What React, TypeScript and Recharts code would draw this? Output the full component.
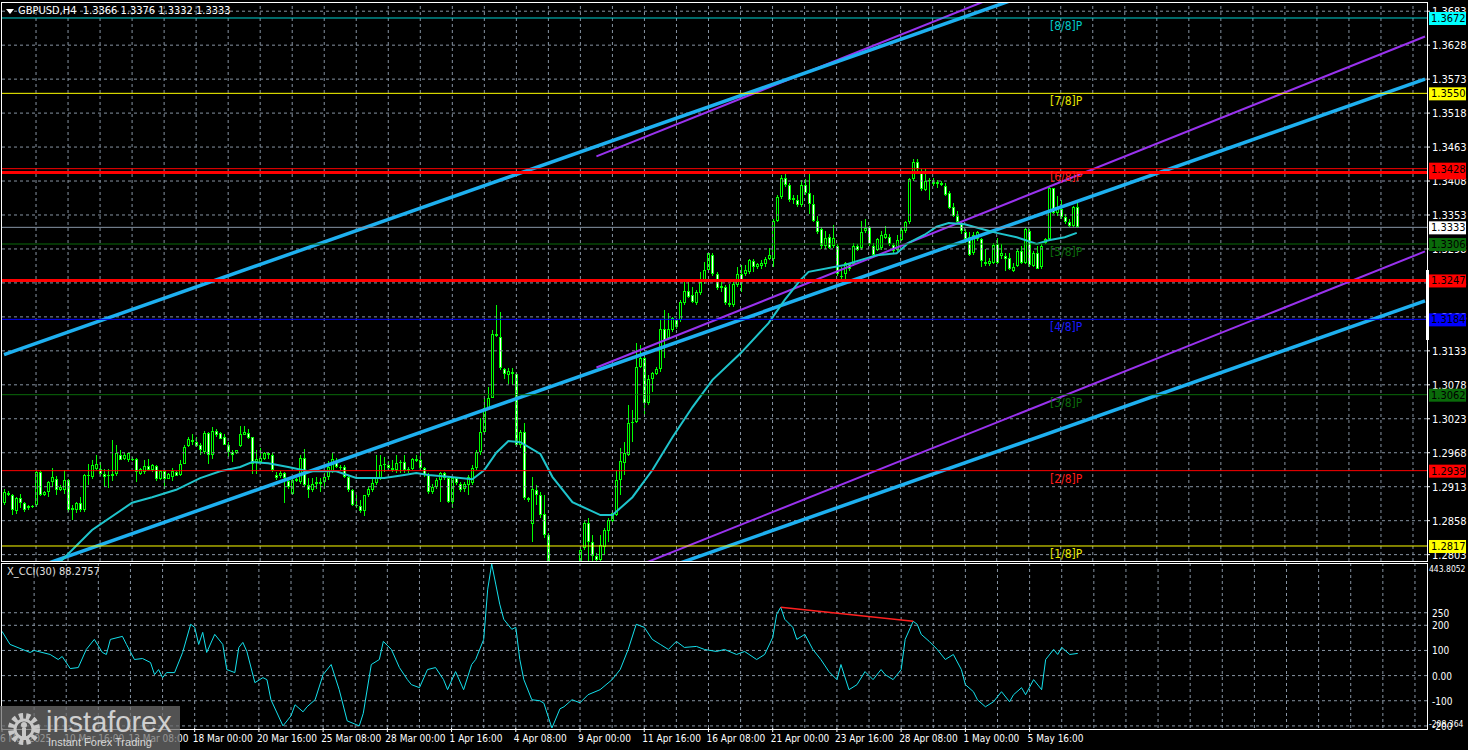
import React from 'react';
import { ComposedChart, LineChart, Bar, Line, XAxis, YAxis, ReferenceLine } from 'recharts';

const FONT = "'Liberation Sans Narrow', 'DejaVu Sans Condensed', 'Liberation Sans', Arial, sans-serif";
const SLOTS = 356; // bars that fit the window, incl. the empty shift on the right

// GBPUSD H4 candles [open, high, low, close], 6 Mar - 6 May 2025
const OHLC: number[][] = [
  [1.2886,1.2910,1.2883,1.2904],[1.2903,1.2906,1.2898,1.2899],[1.2900,1.2902,1.2867,1.2875],[1.2873,1.2896,1.2869,1.2895],[1.2895,1.2902,1.2878,1.2886],
  [1.2887,1.2888,1.2872,1.2876],[1.2878,1.2884,1.2876,1.2882],[1.2880,1.2884,1.2878,1.2882],[1.2883,1.2940,1.2880,1.2937],[1.2937,1.2940,1.2898,1.2900],
  [1.2900,1.2906,1.2898,1.2904],[1.2904,1.2923,1.2896,1.2920],[1.2920,1.2943,1.2913,1.2928],[1.2926,1.2931,1.2899,1.2908],[1.2908,1.2915,1.2906,1.2913],
  [1.2907,1.2940,1.2902,1.2924],[1.2924,1.2926,1.2872,1.2875],[1.2875,1.2883,1.2859,1.2879],[1.2875,1.2889,1.2871,1.2887],[1.2887,1.2896,1.2872,1.2876],
  [1.2875,1.2934,1.2872,1.2932],[1.2932,1.2950,1.2915,1.2930],[1.2929,1.2956,1.2926,1.2948],[1.2941,1.2964,1.2940,1.2949],[1.2942,1.2953,1.2931,1.2934],
  [1.2934,1.2942,1.2913,1.2929],[1.2930,1.2942,1.2911,1.2932],[1.2931,1.2988,1.2923,1.2934],[1.2933,1.2981,1.2931,1.2968],[1.2964,1.2972,1.2956,1.2957],
  [1.2958,1.2968,1.2957,1.2965],[1.2956,1.2970,1.2953,1.2968],[1.2958,1.2961,1.2954,1.2956],[1.2958,1.2959,1.2920,1.2937],[1.2934,1.2943,1.2932,1.2942],
  [1.2937,1.2956,1.2934,1.2947],[1.2947,1.2958,1.2938,1.2940],[1.2940,1.2949,1.2937,1.2948],[1.2947,1.2948,1.2923,1.2925],[1.2925,1.2940,1.2924,1.2938],
  [1.2938,1.2939,1.2910,1.2925],[1.2926,1.2936,1.2925,1.2934],[1.2929,1.2943,1.2923,1.2938],[1.2937,1.2938,1.2930,1.2931],[1.2932,1.2956,1.2931,1.2950],
  [1.2950,1.2980,1.2949,1.2977],[1.2979,1.2993,1.2977,1.2990],[1.2988,1.2999,1.2980,1.2985],[1.2985,1.2993,1.2978,1.2979],[1.2981,1.2983,1.2964,1.2972],
  [1.2970,1.3004,1.2966,1.3000],[1.3000,1.3001,1.2950,1.2965],[1.2965,1.3010,1.2958,1.3004],[1.3004,1.3007,1.2993,1.2996],[1.3000,1.3001,1.2990,1.2991],
  [1.2993,1.2999,1.2980,1.2981],[1.2981,1.2985,1.2961,1.2970],[1.2970,1.2972,1.2953,1.2964],[1.2968,1.2973,1.2966,1.2972],[1.2979,1.3012,1.2977,1.2999],
  [1.2997,1.3012,1.2996,1.3001],[1.3000,1.3007,1.2991,1.2992],[1.2993,1.2994,1.2934,1.2950],[1.2953,1.2972,1.2934,1.2958],[1.2953,1.2975,1.2950,1.2959],
  [1.2958,1.2969,1.2956,1.2968],[1.2964,1.2969,1.2958,1.2968],[1.2964,1.2967,1.2937,1.2940],[1.2932,1.2937,1.2924,1.2927],[1.2931,1.2938,1.2927,1.2936],
  [1.2935,1.2937,1.2886,1.2927],[1.2922,1.2927,1.2910,1.2913],[1.2902,1.2927,1.2900,1.2924],[1.2922,1.2927,1.2920,1.2925],[1.2921,1.2964,1.2918,1.2959],
  [1.2959,1.2974,1.2913,1.2916],[1.2916,1.2927,1.2894,1.2908],[1.2908,1.2927,1.2905,1.2918],[1.2918,1.2929,1.2910,1.2921],[1.2921,1.2927,1.2905,1.2917],
  [1.2921,1.2935,1.2910,1.2929],[1.2929,1.2954,1.2924,1.2945],[1.2937,1.2967,1.2935,1.2958],[1.2953,1.2959,1.2943,1.2945],[1.2945,1.2948,1.2940,1.2943],
  [1.2945,1.2948,1.2927,1.2929],[1.2929,1.2932,1.2905,1.2908],[1.2908,1.2910,1.2881,1.2884],[1.2884,1.2900,1.2878,1.2881],[1.2881,1.2892,1.2870,1.2873],
  [1.2873,1.2900,1.2865,1.2899],[1.2900,1.2913,1.2897,1.2910],[1.2908,1.2927,1.2905,1.2919],[1.2919,1.2964,1.2916,1.2927],[1.2927,1.2964,1.2924,1.2948],
  [1.2948,1.2961,1.2937,1.2949],[1.2948,1.2954,1.2940,1.2944],[1.2944,1.2956,1.2937,1.2940],[1.2940,1.2964,1.2935,1.2951],[1.2951,1.2956,1.2935,1.2953],
  [1.2953,1.2964,1.2935,1.2940],[1.2940,1.2945,1.2935,1.2942],[1.2942,1.2960,1.2940,1.2958],[1.2958,1.2964,1.2953,1.2955],[1.2956,1.2972,1.2940,1.2943],
  [1.2943,1.2945,1.2929,1.2932],[1.2932,1.2935,1.2902,1.2905],[1.2905,1.2918,1.2902,1.2913],[1.2913,1.2927,1.2910,1.2924],[1.2924,1.2937,1.2889,1.2935],
  [1.2935,1.2937,1.2924,1.2927],[1.2927,1.2929,1.2886,1.2889],[1.2888,1.2929,1.2878,1.2927],[1.2927,1.2929,1.2916,1.2919],[1.2917,1.2921,1.2905,1.2908],
  [1.2909,1.2921,1.2905,1.2917],[1.2916,1.2932,1.2900,1.2929],[1.2919,1.2948,1.2916,1.2943],[1.2943,1.2972,1.2940,1.2969],[1.2969,1.3024,1.2964,1.3002],
  [1.3002,1.3056,1.2999,1.3040],[1.3040,1.3075,1.3037,1.3057],[1.3057,1.3166,1.3056,1.3161],[1.3161,1.3207,1.3156,1.3157],[1.3156,1.3196,1.3102,1.3105],
  [1.3103,1.3105,1.3088,1.3095],[1.3094,1.3105,1.3080,1.3101],[1.3099,1.3105,1.3078,1.3096],[1.3096,1.3099,1.2978,1.2981],[1.2981,1.3005,1.2975,1.3001],
  [1.3001,1.3016,1.2892,1.2894],[1.2894,1.2897,1.2889,1.2892],[1.2852,1.2929,1.2824,1.2909],[1.2908,1.2916,1.2884,1.2900],[1.2900,1.2905,1.2862,1.2867],
  [1.2869,1.2900,1.2830,1.2835],[1.2835,1.2838,1.2735,1.2760],[1.2760,1.2785,1.2709,1.2740],[1.2740,1.2780,1.2725,1.2770],[1.2770,1.2790,1.2745,1.2755],
  [1.2755,1.2785,1.2740,1.2775],[1.2775,1.2790,1.2750,1.2760],[1.2760,1.2780,1.2730,1.2745],[1.2745,1.2788,1.2735,1.2770],[1.2770,1.2814,1.2760,1.2811],
  [1.2814,1.2857,1.2811,1.2854],[1.2854,1.2863,1.2790,1.2824],[1.2824,1.2835,1.2790,1.2800],[1.2800,1.2805,1.2780,1.2795],[1.2795,1.2835,1.2785,1.2819],
  [1.2816,1.2846,1.2803,1.2843],[1.2842,1.2862,1.2824,1.2859],[1.2857,1.2873,1.2854,1.2870],[1.2867,1.2940,1.2865,1.2924],[1.2924,1.2975,1.2900,1.2954],
  [1.2951,1.2986,1.2932,1.2967],[1.2964,1.3045,1.2962,1.3016],[1.3016,1.3037,1.2986,1.3018],[1.3018,1.3145,1.3016,1.3107],[1.3107,1.3142,1.3105,1.3122],
  [1.3122,1.3126,1.3026,1.3048],[1.3048,1.3094,1.3045,1.3088],[1.3088,1.3099,1.3067,1.3097],[1.3095,1.3107,1.3094,1.3103],[1.3103,1.3185,1.3099,1.3169],
  [1.3169,1.3199,1.3121,1.3150],[1.3153,1.3195,1.3150,1.3169],[1.3167,1.3188,1.3164,1.3187],[1.3183,1.3185,1.3169,1.3172],[1.3183,1.3215,1.3180,1.3212],
  [1.3211,1.3245,1.3207,1.3230],[1.3230,1.3245,1.3218,1.3220],[1.3223,1.3237,1.3210,1.3212],[1.3210,1.3231,1.3207,1.3229],[1.3226,1.3261,1.3223,1.3245],
  [1.3245,1.3277,1.3242,1.3264],[1.3264,1.3292,1.3261,1.3291],[1.3289,1.3292,1.3255,1.3258],[1.3258,1.3261,1.3231,1.3234],[1.3234,1.3245,1.3229,1.3238],
  [1.3237,1.3239,1.3207,1.3210],[1.3207,1.3242,1.3204,1.3211],[1.3207,1.3245,1.3204,1.3242],[1.3239,1.3269,1.3237,1.3258],[1.3258,1.3272,1.3229,1.3247],
  [1.3258,1.3272,1.3255,1.3264],[1.3261,1.3282,1.3258,1.3280],[1.3278,1.3282,1.3261,1.3269],[1.3269,1.3276,1.3266,1.3273],[1.3271,1.3280,1.3266,1.3276],
  [1.3273,1.3285,1.3269,1.3282],[1.3282,1.3299,1.3280,1.3289],[1.3282,1.3347,1.3269,1.3344],[1.3344,1.3385,1.3342,1.3382],[1.3382,1.3417,1.3379,1.3413],
  [1.3413,1.3420,1.3398,1.3401],[1.3401,1.3404,1.3374,1.3377],[1.3377,1.3385,1.3371,1.3381],[1.3377,1.3385,1.3366,1.3369],[1.3369,1.3409,1.3366,1.3402],
  [1.3402,1.3412,1.3385,1.3388],[1.3388,1.3423,1.3355,1.3371],[1.3370,1.3386,1.3341,1.3343],[1.3343,1.3351,1.3322,1.3326],[1.3330,1.3333,1.3298,1.3303],
  [1.3303,1.3327,1.3298,1.3316],[1.3318,1.3322,1.3298,1.3300],[1.3303,1.3336,1.3300,1.3316],[1.3302,1.3306,1.3254,1.3257],[1.3255,1.3268,1.3249,1.3252],
  [1.3257,1.3277,1.3244,1.3276],[1.3273,1.3276,1.3262,1.3265],[1.3273,1.3308,1.3270,1.3303],[1.3302,1.3306,1.3295,1.3297],[1.3300,1.3343,1.3297,1.3326],
  [1.3327,1.3346,1.3324,1.3332],[1.3334,1.3335,1.3303,1.3306],[1.3303,1.3308,1.3287,1.3289],[1.3297,1.3316,1.3295,1.3314],[1.3300,1.3327,1.3297,1.3320],
  [1.3316,1.3335,1.3314,1.3322],[1.3318,1.3322,1.3303,1.3306],[1.3304,1.3308,1.3292,1.3295],[1.3297,1.3320,1.3295,1.3313],[1.3313,1.3332,1.3311,1.3329],
  [1.3327,1.3343,1.3324,1.3341],[1.3341,1.3413,1.3338,1.3411],[1.3411,1.3443,1.3408,1.3438],[1.3438,1.3443,1.3421,1.3427],[1.3424,1.3427,1.3392,1.3395],
  [1.3393,1.3427,1.3392,1.3408],[1.3408,1.3413,1.3378,1.3410],[1.3406,1.3413,1.3400,1.3403],[1.3403,1.3410,1.3397,1.3406],[1.3405,1.3408,1.3400,1.3401],
  [1.3400,1.3405,1.3384,1.3386],[1.3389,1.3392,1.3362,1.3365],[1.3366,1.3373,1.3349,1.3351],[1.3351,1.3360,1.3338,1.3341],[1.3340,1.3343,1.3322,1.3327],
  [1.3325,1.3330,1.3308,1.3314],[1.3318,1.3325,1.3287,1.3289],[1.3292,1.3325,1.3289,1.3320],[1.3314,1.3327,1.3311,1.3325],[1.3314,1.3316,1.3268,1.3279],
  [1.3277,1.3298,1.3271,1.3273],[1.3273,1.3284,1.3271,1.3278],[1.3276,1.3308,1.3273,1.3304],[1.3306,1.3316,1.3273,1.3276],[1.3286,1.3306,1.3281,1.3291],
  [1.3287,1.3292,1.3263,1.3281],[1.3284,1.3292,1.3264,1.3265],[1.3263,1.3276,1.3260,1.3269],[1.3271,1.3298,1.3268,1.3295],[1.3295,1.3303,1.3273,1.3276],
  [1.3276,1.3332,1.3273,1.3330],[1.3327,1.3330,1.3269,1.3272],[1.3271,1.3295,1.3268,1.3292],[1.3291,1.3303,1.3265,1.3266],[1.3268,1.3306,1.3265,1.3303],
  [1.3308,1.3316,1.3306,1.3314],[1.3314,1.3399,1.3311,1.3396],[1.3396,1.3397,1.3354,1.3357],[1.3357,1.3384,1.3351,1.3365],[1.3363,1.3378,1.3346,1.3349],
  [1.3349,1.3354,1.3338,1.3341],[1.3341,1.3346,1.3333,1.3335],[1.3335,1.3368,1.3333,1.3366],[1.3366,1.3376,1.3332,1.3333],
];

// moving average, read at sample bars
const MA_IDX = [10, 14, 22, 32, 37, 43, 49, 54, 59, 62, 66, 71, 76, 83, 88, 95, 100, 103, 106, 111, 117, 120, 123, 126, 129, 134, 137, 142, 149, 152, 157, 162, 167, 172, 177, 184, 191, 195, 199, 201, 210, 218, 223, 226, 230, 233, 236, 240, 245, 248, 253, 258, 261, 265, 268];
const MA_VAL = [1.2770, 1.2791, 1.2843, 1.2887, 1.2896, 1.2908, 1.2927, 1.2938, 1.2945, 1.2953, 1.2951, 1.2945, 1.2938, 1.2938, 1.2927, 1.2927, 1.2932, 1.2935, 1.2932, 1.2929, 1.2925, 1.2940, 1.2968, 1.2987, 1.2985, 1.2966, 1.2929, 1.2888, 1.2867, 1.2867, 1.2896, 1.2940, 1.2993, 1.3042, 1.3086, 1.3129, 1.3178, 1.3215, 1.3248, 1.3261, 1.3272, 1.3288, 1.3291, 1.3308, 1.3321, 1.3334, 1.3340, 1.3338, 1.3329, 1.3324, 1.3317, 1.3306, 1.3312, 1.3317, 1.3324];

// X_CCI(30), read at sample bars
const CCI_IDX = [0, 2, 7, 8, 12, 14, 15, 17, 19, 21, 23, 25, 26, 27, 30, 31, 33, 35, 37, 38, 39, 40, 41, 43, 45, 47, 48, 49, 50, 51, 53, 55, 56, 58, 59, 60, 61, 63, 65, 66, 67, 70, 72, 73, 75, 76, 78, 80, 82, 84, 86, 89, 90, 92, 94, 95, 97, 99, 101, 102, 104, 106, 108, 110, 111, 113, 115, 117, 118, 120, 121, 122, 123, 124, 125, 127, 128, 129, 130, 132, 134, 135, 136, 137, 139, 140, 142, 144, 146, 149, 152, 154, 156, 158, 160, 162, 164, 166, 168, 170, 173, 175, 178, 180, 183, 185, 188, 190, 192, 193, 194, 195, 197, 198, 200, 202, 204, 206, 208, 209, 211, 213, 215, 217, 219, 220, 222, 224, 225, 227, 228, 229, 231, 233, 235, 237, 239, 240, 242, 243, 245, 247, 249, 251, 252, 254, 255, 257, 259, 260, 262, 263, 264, 266, 268];
const CCI_VAL = [176, 124, 92, 100, 84, 64, 76, 28, 32, 104, 144, 92, 84, 144, 156, 124, 64, 68, 52, 4, 24, -8, 12, 12, 92, 204, 192, 124, 172, 92, 164, 124, 24, 12, 112, 132, 96, -28, -8, -16, -96, -200, -160, -116, -144, -124, -96, 4, 44, -56, -180, -200, -150, 44, 64, 136, 104, 32, -16, -36, -48, 24, 32, -16, -56, 16, -56, 44, 64, 144, 344, 443.8, 364, 284, 224, 184, 192, 64, -16, -96, -100, -110, -160, -208.364, -132, -124, -96, -108, -76, -56, -16, 24, 104, 204, 192, 144, 124, 104, 136, 112, 116, 104, 96, 104, 84, 96, 64, 84, 152, 244, 272, 224, 192, 144, 164, 104, 64, 16, -16, 44, -56, -36, 16, -16, 24, 4, -16, 24, 144, 216, 204, 164, 136, 104, 64, 84, 24, -36, -64, -96, -124, -104, -64, -104, -76, -48, -76, -16, -56, 64, 104, 84, 112, 84, 88.2757];

// CCI divergence line [bar, value]
const CCI_DIVERGENCE = [[194, 272], [227, 216]];

const DATE_IDX = [0, 16, 32, 48, 64, 80, 96, 112, 128, 144, 160, 176, 192, 208, 224, 240, 256];
const DATE_LABELS = ['6 Mar 2025', '10 Mar 16:00', '13 Mar 08:00', '18 Mar 00:00', '20 Mar 16:00', '25 Mar 08:00', '28 Mar 00:00', '1 Apr 16:00', '4 Apr 08:00', '9 Apr 00:00', '11 Apr 16:00', '16 Apr 08:00', '21 Apr 00:00', '23 Apr 16:00', '28 Apr 08:00', '1 May 00:00', '5 May 16:00'];

const PRICE_TICKS = [1.3683, 1.3628, 1.3573, 1.3518, 1.3463, 1.3408, 1.3353, 1.3298, 1.3243, 1.3188, 1.3133, 1.3078, 1.3023, 1.2968, 1.2913, 1.2858, 1.2803];
const PRICE_DOMAIN = [1.27927, 1.36979];
const CCI_TICKS = [443.8052, 250, 200, 100, 0, -100, -200, -208.364];
const CCI_GRID = [250, 200, 100, 0, -100, -200];
const CCI_DOMAIN = [-208.364, 443.8052];

// horizontal levels and their Murrey labels
const LEVEL_PRICES = [1.3672, 1.3550, 1.3422, 1.3428, 1.3333, 1.3306, 1.3247, 1.3184, 1.3062, 1.2939, 1.2817];
const LEVEL_NAMES = ['[8/8]P', '[7/8]P', '', '[6/8]P', '', '[5/8]P', '', '[4/8]P', '[3/8]P', '[2/8]P', '[1/8]P'];

// channel lines [bar, price] -> [bar, price]
const BLUE_LINES = [
  [[0, 1.3127], [355, 1.3936]],
  [[0, 1.2764], [355, 1.3573]],
  [[0, 1.2404], [355, 1.3214]],
];
const PURPLE_LINES = [
  [[148, 1.3448], [355, 1.3984]],
  [[148, 1.3106], [355, 1.3642]],
  [[148, 1.2758], [355, 1.3294]],
];

const LEVEL_STYLE = [
  { stroke: '#00d2d2', w: 1, bg: '#00ffff', name: '#00c8c8', tag: true },
  { stroke: '#ffff00', w: 1, bg: '#ffff00', name: '#e6e600', tag: true },
  { stroke: '#ff0000', w: 3, bg: '#ff0000', name: '#ff0000', tag: false },
  { stroke: '#ff0000', w: 1, bg: '#ff0000', name: '#ff1a1a', tag: true },
  { stroke: '#8796a6', w: 1, bg: '#ffffff', name: '#fff', tag: true },
  { stroke: '#0a6a0a', w: 1, bg: '#0a6a0a', name: '#0b6b0b', tag: true },
  { stroke: '#ff0000', w: 3, bg: '#ff0000', name: '#ff0000', tag: true },
  { stroke: '#0000ff', w: 1, bg: '#0000ff', name: '#1a1aff', tag: true },
  { stroke: '#0a6a0a', w: 1, bg: '#0a6a0a', name: '#0b6b0b', tag: true },
  { stroke: '#ff0000', w: 1, bg: '#ff0000', name: '#ff1a1a', tag: true },
  { stroke: '#ffff00', w: 1, bg: '#ffff00', name: '#e6e600', tag: true },
];

const GRID = '#8794a3';
const vGrid = Array.from({ length: 44 }, (_, k) => 8 * (k + 1));
const MARGIN = { top: 2, right: 0, bottom: 2, left: 2 };

const Candle = (props: any) => {
  const { x, y, width, height, payload } = props;
  if (!payload || !payload.ohlc) return null;
  const [o, h, l, c] = payload.ohlc;
  const top = Math.min(y, y + height);
  const bot = Math.max(y, y + height);
  const k = (bot - top) / (h - l || 1);
  const py = (v: number) => top + (h - v) * k;
  const cx = Math.floor(x + width / 2);
  const bt = Math.round(py(Math.max(o, c)));
  let bb = Math.round(py(Math.min(o, c)));
  if (bb <= bt) bb = bt + 1;
  const up = c >= o;
  return (
    <g shapeRendering="crispEdges">
      <rect x={cx} y={Math.round(top)} width={1} height={Math.max(1, Math.round(bot) - Math.round(top))} fill="#00ff00" />
      <rect x={cx - 1} y={bt} width={3} height={bb - bt} fill="#00ff00" />
      {bb - bt > 2 && <rect x={cx} y={bt + 1} width={1} height={bb - bt - 2} fill={up ? '#000000' : '#ffffff'} />}
    </g>
  );
};

const LevelTag = (props: any) => {
  const { viewBox, price, bg, name, nameColor, withText } = props;
  if (!viewBox) return null;
  const right = viewBox.x + viewBox.width;
  const y = viewBox.y;
  return (
    <g>
      {name ? (
        <text x={viewBox.x + 1048} y={y + 12} fontSize={12} fontFamily={FONT} fill={nameColor}>{name}</text>
      ) : null}
      <rect x={right + 2} y={y - 6} width={37} height={13} fill={bg} />
      {withText ? (
        <text x={right + 4} y={y + 4} fontSize={11} fontFamily={FONT} fill="#000">{price.toFixed(4)}</text>
      ) : null}
    </g>
  );
};

const PriceTick = (props: any) => {
  const { x, y, payload } = props;
  return <text x={x} y={y + 4} fontSize={11} fontFamily={FONT} fill="#ffffff">{payload.value.toFixed(4)}</text>;
};

const CciTick = (props: any) => {
  const { x, y, payload } = props;
  const v = payload.value;
  const txt = v === 0 ? '0.00' : String(v);
  const dy = v === CCI_DOMAIN[1] ? 8 : v === CCI_DOMAIN[0] ? -1 : 4;
  const long = txt.length > 5;
  return (
    <text x={long ? x - 3 : x} y={y + dy} fontSize={long ? 8.5 : 10} fontFamily={FONT} fill="#ffffff">{txt}</text>
  );
};

const DateTick = (props: any) => {
  const { x, y, payload } = props;
  const k = DATE_IDX.indexOf(payload.value);
  return <text x={x - 2} y={y + 10} fontSize={10} fontFamily={FONT} fill="#ffffff">{DATE_LABELS[k]}</text>;
};

export default function App() {
  const priceRows = Array.from({ length: SLOTS }, (_, i) => ({ i, ohlc: OHLC[i] || null, ma: null as number | null }));
  MA_IDX.forEach((k, n) => { priceRows[k].ma = MA_VAL[n]; });
  const cciRows = Array.from({ length: SLOTS }, (_, i) => ({ i, cci: null as number | null }));
  CCI_IDX.forEach((k, n) => { cciRows[k].cci = CCI_VAL[n]; });

  return (
    <div style={{ position: 'absolute', left: 0, top: 0, width: 1468, height: 750, background: '#000', overflow: 'hidden', fontFamily: FONT }}>
      {/* price panel: grid, candles, channels, moving average */}
      <div style={{ position: 'absolute', left: 0, top: 0 }}>
        <ComposedChart width={1468} height={563} data={priceRows} margin={MARGIN} barCategoryGap={0}>
          <XAxis dataKey="i" type="category" hide />
          <YAxis orientation="right" width={41} domain={PRICE_DOMAIN} allowDataOverflow type="number"
            ticks={PRICE_TICKS} interval={0} tickSize={3} tickMargin={2} axisLine={false}
            tickLine={{ stroke: '#fff' }} tick={<PriceTick />} />
          {PRICE_TICKS.map((t) => (
            <ReferenceLine key={'h' + t} y={t} stroke={GRID} strokeDasharray="3 3" />
          ))}
          {vGrid.map((k) => (
            <ReferenceLine key={'v' + k} x={k} stroke={GRID} strokeDasharray="3 3" />
          ))}
          <Bar dataKey={(d: any) => (d.ohlc ? [d.ohlc[2], d.ohlc[1]] : null)} barSize={3} shape={<Candle />} isAnimationActive={false} />
          {PURPLE_LINES.map((s, n) => (
            <ReferenceLine key={'p' + n} segment={[{ x: s[0][0], y: s[0][1] }, { x: s[1][0], y: s[1][1] }]}
              stroke="#9932ee" strokeWidth={2} ifOverflow="hidden" />
          ))}
          {BLUE_LINES.map((s, n) => (
            <ReferenceLine key={'b' + n} segment={[{ x: s[0][0], y: s[0][1] }, { x: s[1][0], y: s[1][1] }]}
              stroke="#1eb0f0" strokeWidth={3.5} ifOverflow="hidden" />
          ))}
          <Line dataKey="ma" stroke="#1fc4cc" strokeWidth={2} dot={false} connectNulls isAnimationActive={false} />
        </ComposedChart>
      </div>

      {/* level lines with their price tags, drawn over the axis labels */}
      <div style={{ position: 'absolute', left: 0, top: 0 }}>
        <ComposedChart width={1468} height={563} data={priceRows} margin={MARGIN}>
          <XAxis dataKey="i" type="category" hide />
          <YAxis orientation="right" width={41} domain={PRICE_DOMAIN} allowDataOverflow type="number"
            tick={false} axisLine={false} tickLine={false} />
          {LEVEL_PRICES.map((p, n) => (
            <ReferenceLine key={'l' + n} y={p} stroke={LEVEL_STYLE[n].stroke} strokeWidth={LEVEL_STYLE[n].w}
              label={<LevelTag price={p} bg={LEVEL_STYLE[n].bg} name={LEVEL_NAMES[n]} nameColor={LEVEL_STYLE[n].name} withText={LEVEL_STYLE[n].tag} />} />
          ))}
        </ComposedChart>
      </div>

      {/* CCI panel */}
      <div style={{ position: 'absolute', left: 0, top: 562 }}>
        <LineChart width={1468} height={188} data={cciRows} margin={{ top: 2, right: 0, bottom: 0, left: 2 }}>
          <XAxis dataKey="i" type="category" height={22} ticks={DATE_IDX} interval={0} tickSize={4} tickMargin={0}
            axisLine={false} tickLine={{ stroke: '#fff' }} tick={<DateTick />} />
          <YAxis orientation="right" width={41} domain={CCI_DOMAIN} allowDataOverflow type="number"
            ticks={CCI_TICKS} interval={0} tickSize={3} tickMargin={2} axisLine={false}
            tickLine={false} tick={<CciTick />} />
          {CCI_GRID.map((t) => (
            <ReferenceLine key={'ch' + t} y={t} stroke={GRID} strokeDasharray="3 3" />
          ))}
          {vGrid.map((k) => (
            <ReferenceLine key={'cv' + k} x={k} stroke={GRID} strokeDasharray="3 3" />
          ))}
          <Line dataKey="cci" stroke="#14e0ec" strokeWidth={1} dot={false} connectNulls isAnimationActive={false} />
          <ReferenceLine segment={[{ x: CCI_DIVERGENCE[0][0], y: CCI_DIVERGENCE[0][1] }, { x: CCI_DIVERGENCE[1][0], y: CCI_DIVERGENCE[1][1] }]}
            stroke="#ff2020" strokeWidth={1.5} ifOverflow="hidden" />
        </LineChart>
      </div>

      {/* panel frames */}
      <div style={{ position: 'absolute', left: 1, top: 2, width: 1427, height: 560, border: '1px solid #fff', boxSizing: 'border-box', pointerEvents: 'none' }} />
      <div style={{ position: 'absolute', left: 1, top: 563, width: 1427, height: 167, border: '1px solid #fff', boxSizing: 'border-box', pointerEvents: 'none' }} />
      <div style={{ position: 'absolute', left: 1426, top: 270, width: 3, height: 70, background: '#fff' }} />

      {/* header */}
      <div style={{ position: 'absolute', left: 6, top: 4, color: '#fff', fontSize: 11, lineHeight: '14px', whiteSpace: 'pre', display: 'flex', alignItems: 'center' }}>
        <span style={{ display: 'inline-block', width: 0, height: 0, borderLeft: '4px solid transparent', borderRight: '4px solid transparent', borderTop: '5px solid #fff', marginRight: 4 }} />
        <span>GBPUSD,H4  1.3366 1.3376 1.3332 1.3333</span>
      </div>
      <div style={{ position: 'absolute', left: 7, top: 565, color: '#e0e0e0', fontSize: 11, lineHeight: '14px', whiteSpace: 'pre' }}>X_CCI(30) 88.2757</div>

      {/* watermark */}
      <div style={{ position: 'absolute', left: 0, top: 706, width: 180, height: 44, background: 'rgba(110,110,110,0.75)' }}>
        <svg width={40} height={40} style={{ position: 'absolute', left: 4, top: 3 }}>
          <circle cx={20} cy={20} r={13} fill="none" stroke="#c8c8c8" strokeWidth={6} strokeDasharray="4 3" />
          <circle cx={20} cy={20} r={9} fill="none" stroke="#c8c8c8" strokeWidth={3} />
          <circle cx={20} cy={16} r={3} fill="#c8c8c8" />
          <rect x={18} y={19} width={4} height={12} fill="#c8c8c8" />
        </svg>
        <div style={{ position: 'absolute', left: 46, top: 0, fontFamily: "'Liberation Sans', Arial, sans-serif", fontSize: 29, color: '#cfcfcf', lineHeight: '32px' }}>instaforex</div>
        <div style={{ position: 'absolute', left: 48, top: 30, fontFamily: "'Liberation Sans', Arial, sans-serif", fontSize: 11, color: '#d8d8d8', lineHeight: '13px' }}>Instant Forex Trading</div>
      </div>
    </div>
  );
}
